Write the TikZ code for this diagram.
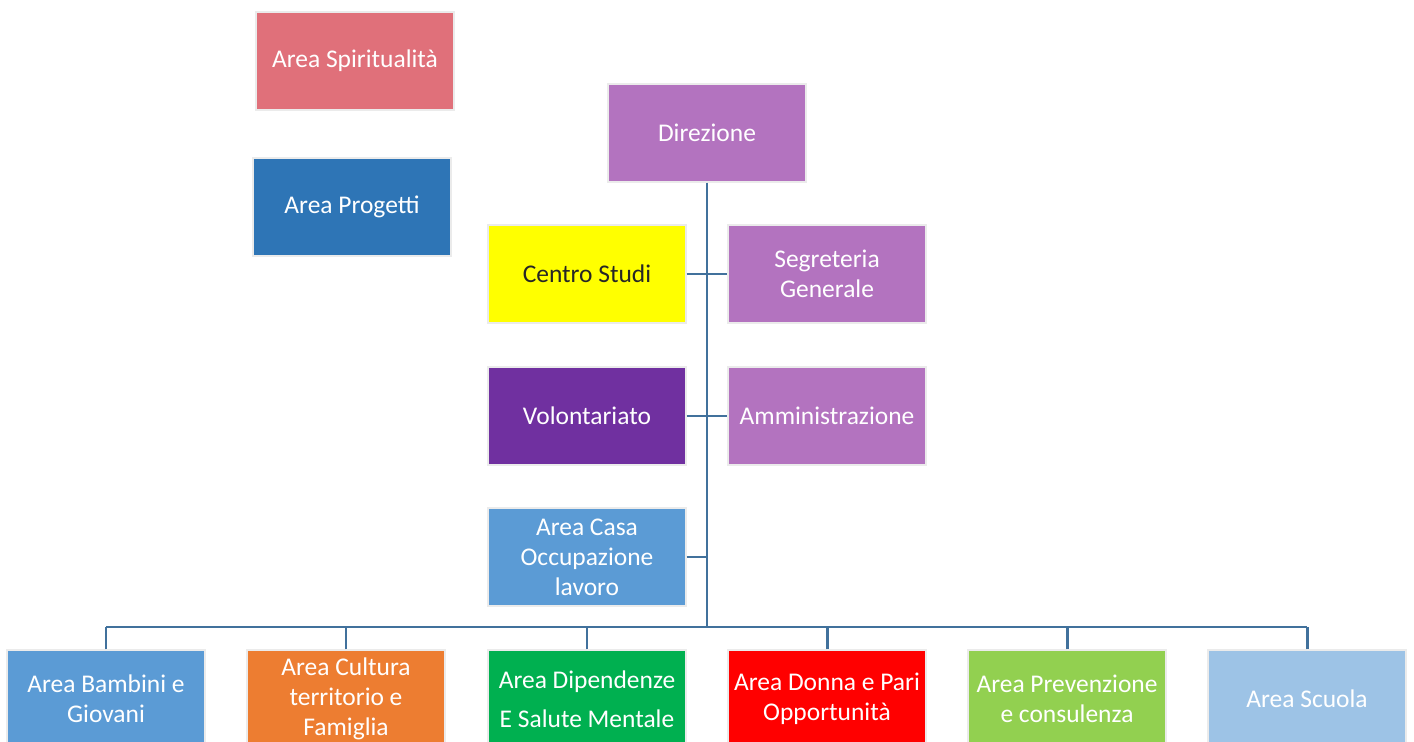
\documentclass[tikz,border=0pt]{standalone}
\usepackage{fontspec}
\setmainfont{Carlito}
\usepackage{tikz}
\usetikzlibrary{positioning}

\definecolor{spirito}{HTML}{E0707A}
\definecolor{progetti}{HTML}{2E75B6}
\definecolor{lilla}{HTML}{B373BF}
\definecolor{giallo}{HTML}{FFFF00}
\definecolor{viola}{HTML}{7030A0}
\definecolor{azzurro}{HTML}{5B9BD5}
\definecolor{arancio}{HTML}{ED7D31}
\definecolor{verde}{HTML}{00B050}
\definecolor{rosso}{HTML}{FF0000}
\definecolor{verdechiaro}{HTML}{92D050}
\definecolor{celeste}{HTML}{9DC3E6}
\definecolor{linea}{HTML}{41719C}

\tikzset{
  area/.style={draw=black!8, line width=0.8pt, minimum width=3.96cm, minimum height=1.96cm,
    inner sep=0pt, align=center, text=white, font=\fontsize{14.5}{17}\selectfont},
  ramo/.style={draw=linea, line width=1.7pt}
}

\begin{document}
\begin{tikzpicture}[x=0.02cm, y=-0.02cm]
  \useasboundingbox (0,0) rectangle (1414,742);
  \clip (0,0) rectangle (1414,742);

  % Aree in alto a sinistra
  \node[area, fill=spirito] (spir) at (355,61) {Area Spiritualità};
  \node[area, fill=progetti] (prog) at (352,207) {Area Progetti};

  % Direzione e staff
  \node[area, fill=lilla] (dir) at (707,133) {Direzione};
  \node[area, fill=giallo, text=black!85] (centro) at (587,274) {Centro Studi};
  \node[area, fill=lilla] (segr) at (827,274) {Segreteria\\Generale};
  \node[area, fill=viola] (vol) at (587,416) {Volontariato};
  \node[area, fill=lilla] (amm) at (827,416) {Amministrazione};
  \node[area, fill=azzurro] (casa) at (587,557) {Area Casa\\Occupazione\\lavoro};

  % Aree operative
  \node[area, fill=azzurro] (bamb) at (106,699) {Area Bambini e\\Giovani};
  \node[area, fill=arancio] (cult) at (346,699) {Area Cultura\\territorio e\\Famiglia};
  \node[area, fill=verde] (dip) at (587,699) {Area Dipendenze\\[5pt]E Salute Mentale};
  \node[area, fill=rosso] (donna) at (827,699) {Area Donna e Pari\\Opportunità};
  \node[area, fill=verdechiaro] (prev) at (1067,699) {Area Prevenzione\\e consulenza};
  \node[area, fill=celeste] (scuola) at (1307,699) {Area Scuola};

  % Collegamenti
  \coordinate (bus) at (707,627);
  \draw[ramo] (dir.south) -- (bus);
  \draw[ramo] (centro.east) -- (segr.west);
  \draw[ramo] (vol.east) -- (amm.west);
  \draw[ramo] (casa.east) -- (casa.east -| bus);
  \draw[ramo] (bamb.north |- bus) -- (scuola.north |- bus);
  \foreach \a in {bamb, cult, dip, donna, prev, scuola}
    \draw[ramo] (\a.north) -- (\a.north |- bus);
\end{tikzpicture}
\end{document}
